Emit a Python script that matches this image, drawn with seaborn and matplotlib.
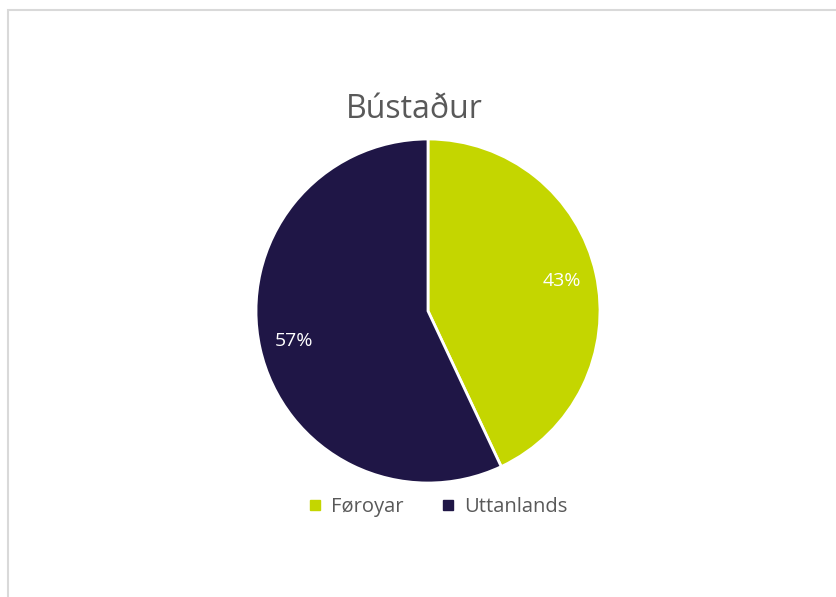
import matplotlib
matplotlib.use("Agg")
import matplotlib.pyplot as plt
import seaborn as sns
from matplotlib.patches import Rectangle
from matplotlib.lines import Line2D

# ── Data ──
categories = ["Føroyar", "Uttanlands"]
shares = [43, 57]
colors = ["#C4D600", "#1F1646"]
title = "Bústaður"

sns.set_theme(style="white")
plt.rcParams["font.family"] = ["Open Sans", "DejaVu Sans"]

TEXT_CLR = "#595959"

fig = plt.figure(figsize=(8.36, 5.97), dpi=100, facecolor="white")

# chart area frame (left/top edges visible, right/bottom cropped)
fig.patches.append(Rectangle((8 / 836, -0.05), 1.2, 1 - 10 / 597 + 0.05,
                             transform=fig.transFigure, fill=False,
                             edgecolor="#D9D9D9", linewidth=1.5))

# pie: center ~ (428, 311), radius ~172 px
r = 172
cx, cy = 428, 311
ax = fig.add_axes([(cx - r) / 836, (597 - cy - r) / 597, 2 * r / 836, 2 * r / 597])
wedges, texts, autotexts = ax.pie(
    shares, colors=colors, startangle=90, counterclock=False,
    autopct="%1.0f%%", pctdistance=0.8, radius=1.0,
    wedgeprops=dict(edgecolor="white", linewidth=2),
    textprops=dict(color="white", fontsize=14),
)
ax.set_xlim(-1, 1)
ax.set_ylim(-1, 1)
ax.set_aspect("equal")

fig.text(414 / 836, 1 - 110 / 597, title, ha="center", va="center",
         fontsize=23, color=TEXT_CLR)

handles = [Line2D([0], [0], marker="s", linestyle="", markersize=7,
                  markerfacecolor=c, markeredgecolor=c) for c in colors]
fig.legend(handles, categories, loc="center", bbox_to_anchor=(436 / 836, 1 - 507 / 597),
           ncol=2, frameon=False, fontsize=14.5, labelcolor=TEXT_CLR,
           handletextpad=0.3, columnspacing=1.7, handlelength=1.0)

fig.savefig("out.png", dpi=100, facecolor="white")
